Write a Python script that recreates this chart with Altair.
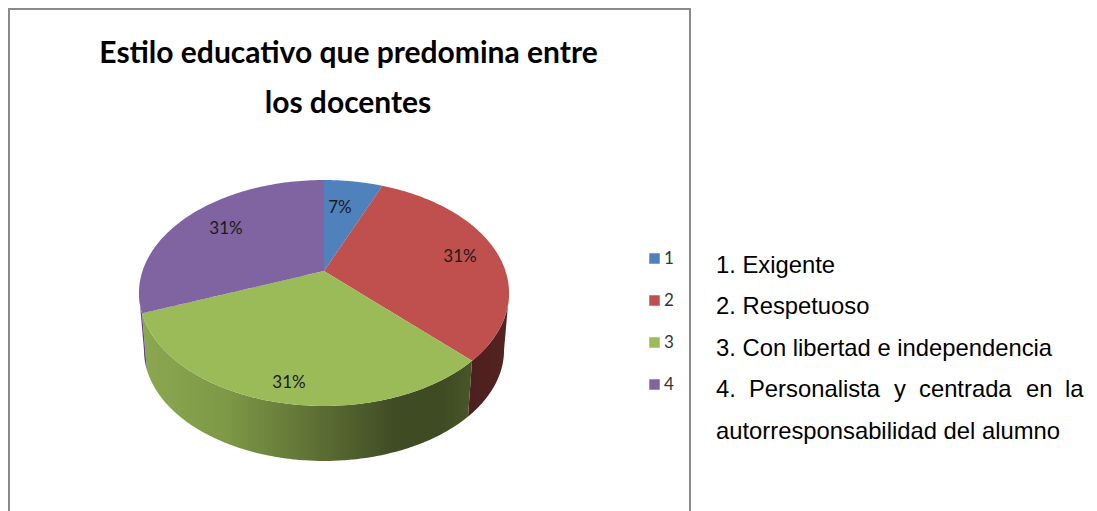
import numpy as np
import pandas as pd
import altair as alt

# ---- content ----
CATEGORIES = ["1", "2", "3", "4"]
SHARES = [6.2, 31.4, 31.5, 30.9]      # slice sizes as drawn
PCT_LABELS = ["7%", "31%", "31%", "31%"]
TOP_COLORS = ["#4f81bd", "#c0504d", "#9bbb59", "#8064a2"]
TITLE_LINES = ["Estilo educativo que predomina entre", "los docentes"]
NOTE_LINES = ["1. Exigente", "2. Respetuoso", "3. Con libertad e independencia",
              "autorresponsabilidad del alumno"]
NOTE_WORDS = ["4.", "Personalista", "y", "centrada", "en", "la"]

W, H = 1081, 503
OX, OY = 8, 8
NARROW = "Lato"

# perspective projection of the pie's disc onto the page (page pixels)
CX, CY, A, B, K = 324.0, 271.0, 181.5, 108.7, 0.1947
def top(theta):
    u, v = np.sin(theta), -np.cos(theta)
    w = 1 - K * v
    return CX + A * u / w, CY + B * v / w
def bottom(theta):
    x, y = top(theta)
    return CX + (x - CX) * 0.973, 350 + (y - 293) * 0.982

def sections(px, py, series):
    """Turn a polygon into x / y / y2 rows for an area mark."""
    px, py = np.asarray(px), np.asarray(py)
    rows = []
    qx, qy = np.roll(px, -1), np.roll(py, -1)
    for x in np.unique(np.round(px, 3)):
        ys = []
        for x0, y0, x1, y1 in zip(px, py, qx, qy):
            lo, hi = min(x0, x1), max(x0, x1)
            if lo - 1e-3 <= x <= hi + 1e-3:
                if abs(x1 - x0) < 1e-9:
                    ys += [y0, y1]
                else:
                    t = min(1, max(0, (x - x0) / (x1 - x0)))
                    ys.append(y0 + t * (y1 - y0))
        rows.append({"x": float(x), "y": float(min(ys)), "y2": float(max(ys)), "cat": series})
    return rows

edges = np.cumsum([0] + SHARES) / sum(SHARES) * 2 * np.pi
grid = np.linspace(0, 2 * np.pi, 2001)
gx, _ = top(grid)
th_right = grid[np.argmax(gx)]
th_left = grid[np.argmin(gx)]

top_rows, side_rows = [], {}
for i, cat in enumerate(CATEGORIES):
    t = np.linspace(edges[i], edges[i + 1], 90)
    ax, ay = top(t)
    top_rows += sections(np.r_[CX, ax], np.r_[CY, ay], cat)
    a, b = max(edges[i], th_right), min(edges[i + 1], th_left)
    if b > a:
        t = np.linspace(a, b, 90)
        tx, ty = top(t)
        bx, by = bottom(t)
        side_rows[cat] = sections(np.r_[tx, bx[::-1]], np.r_[ty, by[::-1]], cat)

X = alt.X("x:Q", scale=alt.Scale(domain=[OX, OX + W], nice=False, zero=False), axis=None)
Y = alt.Y("y:Q", scale=alt.Scale(domain=[OY + H, OY], nice=False, zero=False), axis=None)
Y2 = alt.Y2("y2:Q")

def grad(stops):
    return alt.Gradient(gradient="linear", x1=0, x2=1, y1=0, y2=0,
                        stops=[alt.GradientStop(offset=o, color=c) for o, c in stops])

SIDE_FILL = {
    "2": grad([(0, "#4c1f1e"), (1, "#552322")]),
    "3": grad([(0, "#8ba850"), (0.25, "#7e9947"), (0.55, "#5b6c33"),
               (0.77, "#3f4c24"), (0.9, "#3e4a22"), (1, "#485628")]),
    "4": grad([(0, "#5c4780"), (1, "#5c4780")]),
}

layers = []
for cat, rows in side_rows.items():
    layers.append(alt.Chart(pd.DataFrame(rows)).mark_area(color=SIDE_FILL[cat], interpolate="linear")
                  .encode(x=X, y=Y, y2=Y2))

layers.append(
    alt.Chart(pd.DataFrame(top_rows)).mark_area(interpolate="linear").encode(
        x=X, y=Y, y2=Y2,
        color=alt.Color("cat:N",
                        scale=alt.Scale(domain=CATEGORIES, range=TOP_COLORS),
                        legend=alt.Legend(orient="none", legendX=638, legendY=242, title=None,
                                          symbolType="square", symbolSize=110, symbolStrokeWidth=0,
                                          labelFont=NARROW, labelFontSize=17, labelColor="#333333",
                                          labelOffset=1, rowPadding=24)),
    )
)

def text(s, x, y, size, font, align="left", weight="normal", color="#000000"):
    return alt.Chart(pd.DataFrame({"t": [s]})).mark_text(
        font=font, fontSize=size, align=align, baseline="alphabetic", fontWeight=weight, color=color
    ).encode(x=alt.value(x - OX), y=alt.value(y - OY), text="t:N")

# title
layers.append(text(TITLE_LINES[0], 348.5, 63, 30, NARROW, "center", "bold"))
layers.append(text(TITLE_LINES[1], 348, 113, 30, NARROW, "center", "bold"))

# percentage labels
for s, x, y in zip(PCT_LABELS, [340, 460, 289, 226], [213, 262, 388, 234]):
    layers.append(text(s, x, y, 17, NARROW, "center", color="#1a1a1a"))

# notes to the right
SANS = "Liberation Sans"
for s, y in zip(NOTE_LINES[:3], [273, 314, 356]):
    layers.append(text(s, 716, y, 23.8, SANS))
layers.append(text(NOTE_LINES[3], 716, 439, 23.8, SANS))
for s, x in zip(NOTE_WORDS, [716, 749, 894, 919, 1026, 1065]):
    layers.append(text(s, x, 397, 23.8, SANS))

# frame (the box round the pie)
FRAME = "#8a8a8a"
layers.append(alt.Chart(pd.DataFrame({"a": [0]})).mark_rule(color=FRAME, strokeWidth=2)
              .encode(x=alt.value(1), y=alt.value(0), y2=alt.value(H)))
layers.append(alt.Chart(pd.DataFrame({"a": [0]})).mark_rule(color=FRAME, strokeWidth=2)
              .encode(x=alt.value(690 - OX), y=alt.value(0), y2=alt.value(H)))
layers.append(alt.Chart(pd.DataFrame({"a": [0]})).mark_rule(color=FRAME, strokeWidth=2)
              .encode(x=alt.value(0), x2=alt.value(690 - OX), y=alt.value(1)))

chart = (
    alt.layer(*layers)
    .properties(width=W, height=H, padding=0, autosize=alt.AutoSizeParams(type="none"),
                background="#ffffff")
    .configure_view(strokeWidth=0)
)

chart.save("out.html", embed_options={"renderer": "svg", "actions": False})
